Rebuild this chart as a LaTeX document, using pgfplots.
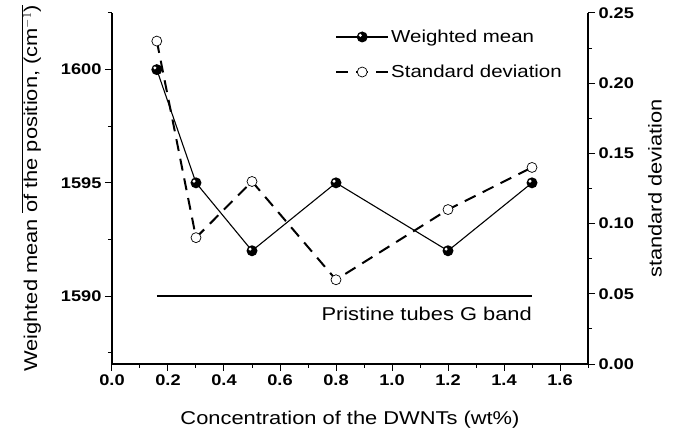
\documentclass[border=0pt]{standalone}
\usepackage{fontspec}
\setmainfont{Liberation Sans}[FakeStretch=1.18]
\usepackage{pgfplots}
\pgfplotsset{compat=1.18}
\pgfdeclareplotmark{ball}{%
  \pgfpathcircle{\pgfpointorigin}{\pgfplotmarksize}%
  \pgfsetfillcolor{black}\pgfusepathqfill
  \pgfpathcircle{\pgfpoint{-0.35\pgfplotmarksize}{0.3\pgfplotmarksize}}{0.3\pgfplotmarksize}%
  \pgfsetfillcolor{white}\pgfusepathqfill}
\pgfplotsset{
  common/.style={
    scale only axis, width=476bp, height=351bp,
    xmin=0, xmax=1.7,
    tick align=outside,
    major tick length=7bp, minor tick length=4bp,
    every tick/.style={black, line width=1bp},
    axis line style={line width=1.2bp},
    /pgf/number format/assume math mode=true,
    ticklabel style={font=\bfseries\fontsize{15.5}{17}\selectfont},
    label style={font=\fontsize{18.6}{21}\selectfont},
  }
}
\begin{document}
\begin{tikzpicture}
\begin{axis}[common,
  axis x line*=bottom, axis y line*=left,
  ymin=1587, ymax=1602.5,
  xtick={0,0.2,...,1.6},
  minor xtick={0.1,0.3,...,1.7},
  xticklabel style={/pgf/number format/fixed, /pgf/number format/fixed zerofill, /pgf/number format/precision=1},
  ytick={1590,1595,1600},
  minor ytick={1587.5,1592.5,1597.5,1602.5},
  yticklabel style={/pgf/number format/1000 sep={}},
  xlabel={Concentration of the DWNTs (wt\%)},
  ylabel={Weighted mean $\overline{\mbox{of the position, (cm$^{-1}$)}}$},
  ylabel style={at={(axis description cs:-0.170,0.5)}, anchor=center},
  xlabel style={at={(axis description cs:0.5,-0.158)}, anchor=center},
]
\addplot[black, line width=1.1bp, mark=ball, mark size=5.5bp] coordinates {
  (0.16,1600) (0.3,1595) (0.5,1592) (0.8,1595) (1.2,1592) (1.5,1595)};
\addplot[black, line width=2bp, no marks] coordinates {(0.16,1590) (1.5,1590)};
\node[anchor=base east, inner sep=0pt, font=\fontsize{18.6}{21}\selectfont] at (axis cs:1.5,1590) [yshift=-24bp] {Pristine tubes G band};
\end{axis}
\begin{axis}[common,
  axis x line=none, axis y line*=right,
  ymin=0, ymax=0.25,
  ytick={0,0.05,...,0.25},
  minor ytick={0.025,0.075,...,0.225},
  yticklabel style={/pgf/number format/fixed, /pgf/number format/fixed zerofill, /pgf/number format/precision=2},
  ylabel={standard deviation},
  ylabel style={at={(axis description cs:1.141,0.5)}, anchor=center, rotate=0},
  legend style={draw=none, fill=none, at={(axis description cs:0.4685,0.958)}, anchor=north west,
    inner sep=0pt, row sep=17bp, nodes={inner sep=2bp}},
  legend cell align=left,
  legend image code/.code={\draw[mark repeat=2,mark phase=2,#1] plot coordinates {(0bp,0bp) (26bp,0bp) (52bp,0bp)};},
]
\addlegendimage{black, line width=1.1bp, mark=ball, mark size=5.5bp}
\addlegendentry{\fontsize{17.4}{20}\selectfont Weighted mean}
\addplot[black, line width=2bp, dash pattern=on 12bp off 8bp, mark=*, mark size=5bp,
  mark options={solid, fill=white, line width=0.7bp}] coordinates {
  (0.16,0.23) (0.3,0.09) (0.5,0.13) (0.8,0.06) (1.2,0.11) (1.5,0.14)};
\addlegendentry{\fontsize{17.4}{20}\selectfont Standard deviation}
\end{axis}
\pgfresetboundingbox
\useasboundingbox (-112bp,-69bp) rectangle (565bp,364bp);
\end{tikzpicture}
\end{document}
